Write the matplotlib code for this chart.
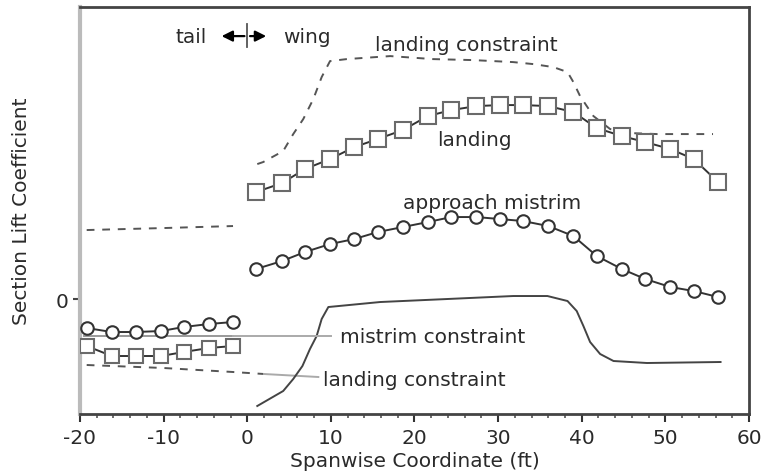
import matplotlib
matplotlib.use("Agg")
import matplotlib.pyplot as plt

plt.rcParams['font.family'] = ['DejaVu Sans']

# ---- data (y in arbitrary lift-coefficient units) ----
wing_x = [1.05, 4.16, 6.9, 9.9, 12.8, 15.6, 18.6, 21.6, 24.4, 27.4,
          30.2, 33.0, 36.0, 39.0, 41.8, 44.8, 47.6, 50.6, 53.4, 56.3]
landing_wing = [0.535, 0.58, 0.65, 0.70, 0.76, 0.80, 0.845, 0.915, 0.945, 0.965,
                0.97, 0.97, 0.965, 0.935, 0.855, 0.815, 0.785, 0.75, 0.70, 0.585]
mistrim_wing = [0.15, 0.19, 0.235, 0.275, 0.30, 0.335, 0.36, 0.385, 0.41, 0.41,
                0.40, 0.39, 0.365, 0.315, 0.215, 0.15, 0.10, 0.06, 0.04, 0.01]

tail_x = [-19.2, -16.2, -13.3, -10.3, -7.6, -4.6, -1.7]
mistrim_tail = [-0.145, -0.165, -0.165, -0.16, -0.14, -0.125, -0.115]
landing_tail = [-0.235, -0.285, -0.285, -0.285, -0.265, -0.245, -0.235]

landc_wing_x = [1.2, 1.9, 4.3, 5.5, 6.7, 7.9, 8.9, 9.9, 11.9, 17.1, 22.2, 27.0,
                31.8, 34.2, 36.6, 38.3, 39.0, 39.8, 40.6, 41.4, 43.4, 45.8, 49.0, 55.7]
landc_wing_y = [0.675, 0.685, 0.74, 0.825, 0.90, 1.00, 1.11, 1.19, 1.20, 1.215, 1.20, 1.195,
                1.185, 1.175, 1.16, 1.135, 1.085, 1.015, 0.965, 0.915, 0.85, 0.83, 0.825, 0.825]

mistc_wing_x = [1.2, 4.3, 5.5, 6.6, 7.5, 8.3, 8.9, 9.7, 15.9, 23.9, 31.8, 35.9,
                38.3, 39.4, 40.2, 41.0, 42.2, 43.8, 47.8, 56.6]
mistc_wing_y = [-0.535, -0.46, -0.40, -0.335, -0.25, -0.185, -0.10, -0.04, -0.015, 0.0, 0.015, 0.015,
                -0.01, -0.06, -0.135, -0.215, -0.275, -0.31, -0.32, -0.315]

landc_tail_x = [-19.2, -10.0, -1.7]
landc_tail_y_up = [0.345, 0.355, 0.365]
landc_tail_y_low = [-0.33, -0.345, -0.365]

mistc_tail_x = [-19.5, -1.7]
mistc_tail_y = [-0.185, -0.185]

xticks = [-20, -10, 0, 10, 20, 30, 40, 50, 60]

# ---- figure ----
fig = plt.figure(figsize=(7.67, 4.77), dpi=100)
ax = fig.add_axes([0.1043, 0.13, 0.8722, 0.853])
ax.set_xlim(-20, 60)
ax.set_ylim(-0.575, 1.46)

txt_c = '#2a2a2a'
dash_c = '#555555'

# constraints
ax.plot(landc_wing_x, landc_wing_y, color=dash_c, lw=1.4, ls=(0, (4, 4)), zorder=2)
ax.plot(landc_tail_x, landc_tail_y_up, color=dash_c, lw=1.4, ls=(0, (4, 4)), zorder=2)
ax.plot(landc_tail_x + [2.0], landc_tail_y_low + [-0.375], color=dash_c, lw=1.4,
        ls=(0, (4, 4)), zorder=2)
ax.plot([2.0, 8.5], [-0.375, -0.39], color='#aaaaaa', lw=1.4, zorder=2)
ax.plot(mistc_wing_x, mistc_wing_y, color='#444444', lw=1.4, zorder=2)
ax.plot(mistc_tail_x, mistc_tail_y, color='#999999', lw=1.4, zorder=2)
ax.plot([-1.7, 10.0], [-0.185, -0.185], color='#aaaaaa', lw=1.4, zorder=2)

# data series
sq = dict(marker='s', ms=11.5, mfc='white', mec='#6a6a6a', mew=1.5,
          color='#333333', lw=1.4, zorder=3)
ci = dict(marker='o', ms=9, mfc='white', mec='#333333', mew=1.5,
          color='#333333', lw=1.4, zorder=3)
ax.plot(wing_x, landing_wing, **sq)
ax.plot(tail_x, landing_tail, **dict(sq, ms=10.5))
ax.plot(wing_x, mistrim_wing, **ci)
ax.plot(tail_x, mistrim_tail, **ci)

# annotations
fs = 14.5
ax.text(-4.8, 1.315, 'tail', ha='right', va='center', fontsize=fs, color=txt_c)
ax.text(4.3, 1.315, 'wing', ha='left', va='center', fontsize=fs, color=txt_c)
ax.annotate('', xy=(-3.4, 1.315), xytext=(0, 1.315),
            arrowprops=dict(arrowstyle='-|>', color='black', lw=1.6, mutation_scale=16))
ax.annotate('', xy=(2.6, 1.315), xytext=(0, 1.315),
            arrowprops=dict(arrowstyle='-|>', color='black', lw=1.6, mutation_scale=16))
ax.plot([0, 0], [1.26, 1.375], color='#555555', lw=1.3)

ax.text(15.3, 1.275, 'landing constraint', ha='left', va='center', fontsize=fs, color=txt_c)
ax.text(22.7, 0.80, 'landing', ha='left', va='center', fontsize=fs, color=txt_c)
ax.text(18.6, 0.485, 'approach mistrim', ha='left', va='center', fontsize=fs, color=txt_c)
ax.text(11.1, -0.185, 'mistrim constraint', ha='left', va='center', fontsize=fs, color=txt_c)
ax.text(9.1, -0.40, 'landing constraint', ha='left', va='center', fontsize=fs, color=txt_c)

# axes styling
ax.set_xticks(xticks)
ax.set_xticklabels([str(t) for t in xticks])
ax.set_xticks([t for t in range(-20, 61, 2)], minor=True)
ax.set_yticks([0])
ax.set_yticklabels(['0'])
ax.tick_params(axis='x', which='major', direction='out', length=6, width=1.5,
               colors='#333333', labelsize=fs, labelcolor=txt_c, pad=4)
ax.tick_params(axis='x', which='minor', direction='out', length=3, width=1.2, colors='#555555')
ax.tick_params(axis='y', which='major', direction='out', length=5, width=1.5,
               colors='#444444', labelsize=fs, labelcolor=txt_c, pad=3)

for side in ['top', 'right', 'bottom']:
    ax.spines[side].set_color('#444444')
    ax.spines[side].set_linewidth(2)
ax.spines['left'].set_color('#bbbbbb')
ax.spines['left'].set_linewidth(3)

ax.set_xlabel('Spanwise Coordinate (ft)', fontsize=fs, color=txt_c, labelpad=3)
ax.set_ylabel('Section Lift Coefficient', fontsize=fs, color=txt_c)
ax.yaxis.set_label_coords(-0.073, 0.5)

fig.savefig('out.png', dpi=100)
